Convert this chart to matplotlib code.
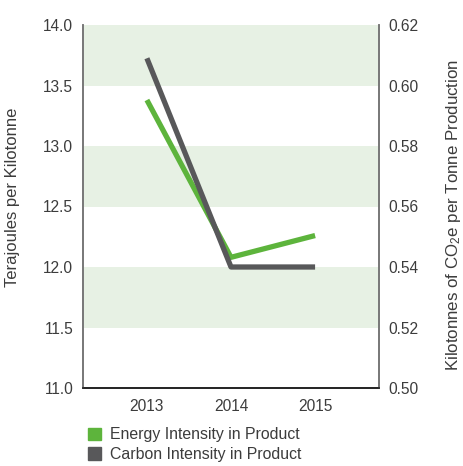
import matplotlib
matplotlib.use("Agg")
import matplotlib.pyplot as plt
from matplotlib.patches import Patch

years = ["2013", "2014", "2015"]
energy = [13.38, 12.08, 12.26]
carbon = [0.609, 0.54, 0.54]
left_ticks = [11.0, 11.5, 12.0, 12.5, 13.0, 13.5, 14.0]
right_ticks = [0.50, 0.52, 0.54, 0.56, 0.58, 0.60, 0.62]
bands = [(11.5, 12.0), (12.5, 13.0), (13.5, 14.0)]

GREEN = "#5db43c"
GRAY = "#58585a"
BAND = "#e7f1e4"
TXT = "#3c3c3c"

plt.rcParams['font.family'] = ['Liberation Sans', 'DejaVu Sans']
plt.rcParams['mathtext.fontset'] = 'custom'
plt.rcParams['mathtext.rm'] = 'Liberation Sans'
plt.rcParams['mathtext.it'] = 'Liberation Sans'
plt.rcParams['mathtext.default'] = 'regular'

fig = plt.figure(figsize=(4.63, 4.66), dpi=100)
ax = fig.add_axes([83/463, 1-388/466, (379-83)/463, (388-25)/466])
ax2 = ax.twinx()

for lo, hi in bands:
    ax.axhspan(lo, hi, color=BAND, lw=0, zorder=0)

x = list(range(len(years)))
ax.plot(x, energy, color=GREEN, lw=3.8, solid_capstyle='butt', zorder=3)
ax2.plot(x, carbon, color=GRAY, lw=3.8, solid_capstyle='butt', zorder=3)

ax.set_xlim(-0.76, 2.76)
ax.set_ylim(11.0, 14.0)
ax2.set_ylim(0.50, 0.62)
ax.set_xticks(x)
ax.set_xticklabels(years)
ax.set_yticks(left_ticks)
ax.set_yticklabels([f"{v:.1f}" for v in left_ticks])
ax2.set_yticks(right_ticks)
ax2.set_yticklabels([f"{v:.2f}" for v in right_ticks])

for a in (ax, ax2):
    a.tick_params(length=0, labelsize=11.2, colors=TXT, pad=7)
    a.spines['top'].set_visible(False)
    a.spines['left'].set_color("#777777")
    a.spines['right'].set_color("#777777")
    a.spines['bottom'].set_color("#222222")
    for s in ('left', 'right', 'bottom'):
        a.spines[s].set_linewidth(1.2)
ax.tick_params(axis='x', pad=8)

ax.set_ylabel("Terajoules per Kilotonne", fontsize=12, color=TXT)
ax.yaxis.set_label_coords(-0.212, 0.526)
ax2.set_ylabel("Kilotonnes of CO$_2$e per Tonne Production", fontsize=12.2,
               color=TXT)
ax2.yaxis.set_label_coords(1.218, 0.477)

handles = [Patch(color=GREEN, label="Energy Intensity in Product"),
           Patch(color=GRAY, label="Carbon Intensity in Product")]
fig.legend(handles=handles, loc='upper left', bbox_to_anchor=(74/463, 1-413/466),
           frameon=False, fontsize=11.4, handlelength=0.8, handleheight=0.8,
           handletextpad=0.6, labelspacing=0.3, labelcolor=TXT)

fig.savefig("out.png", dpi=100)
